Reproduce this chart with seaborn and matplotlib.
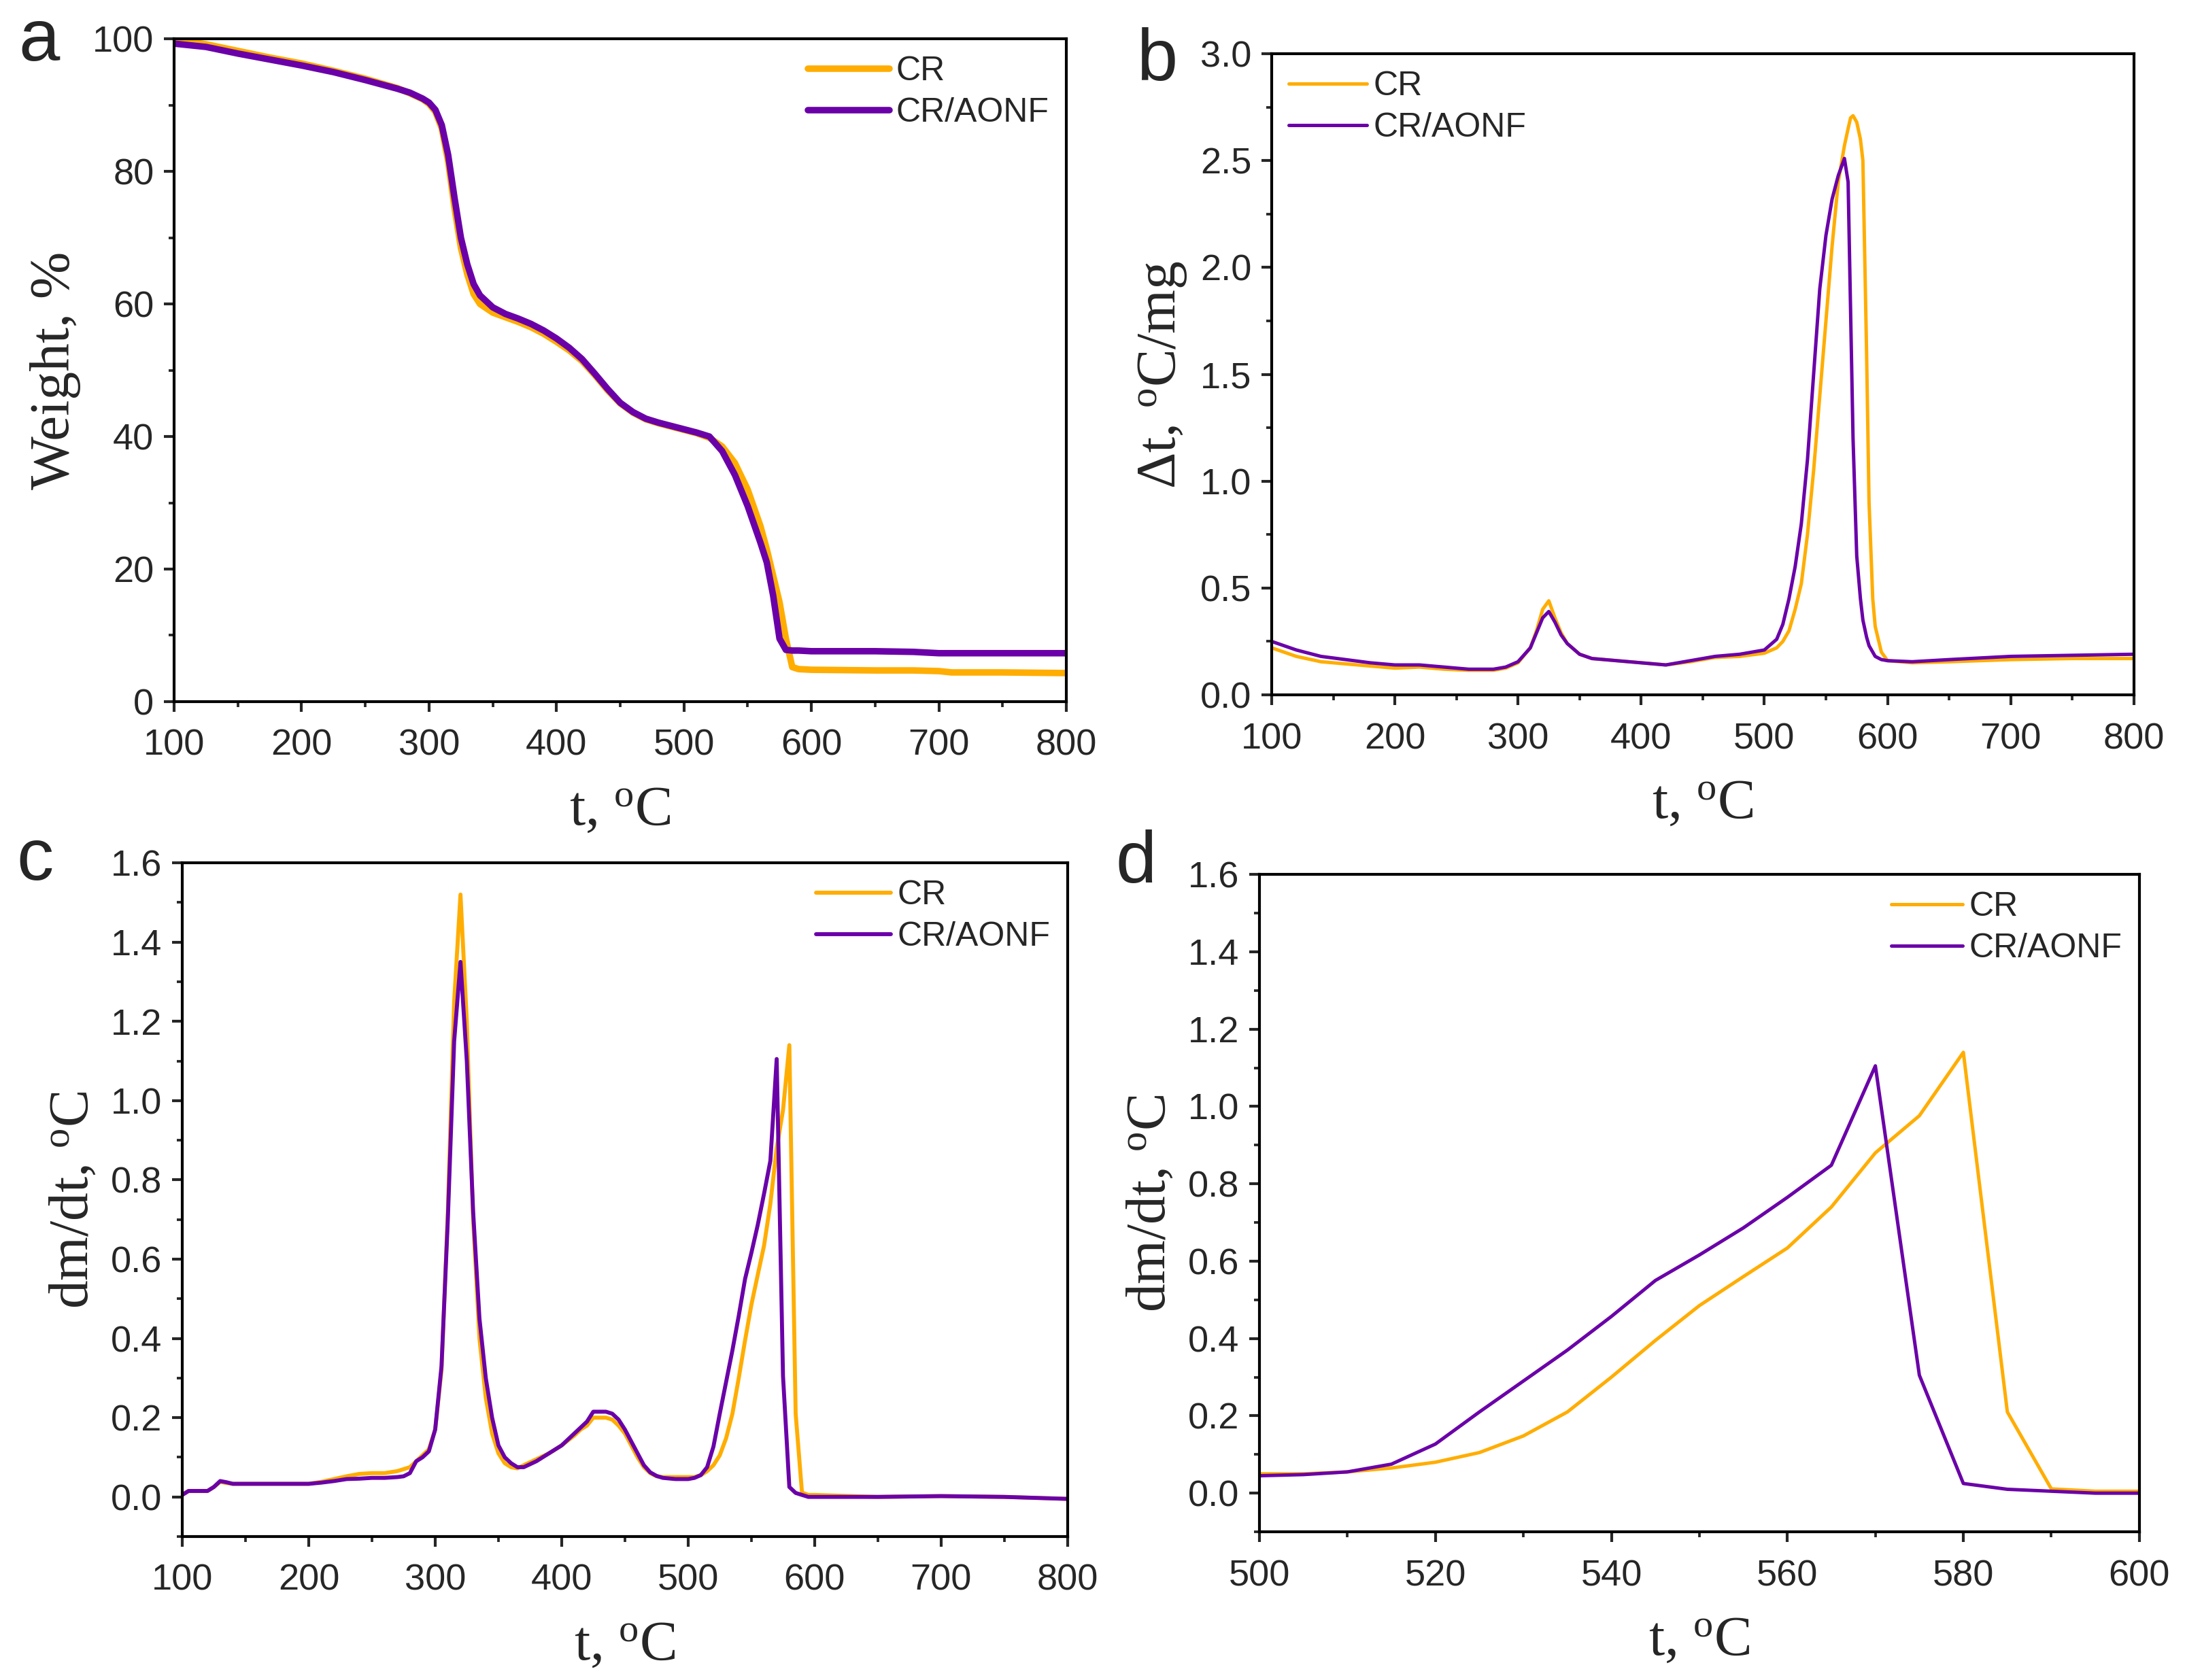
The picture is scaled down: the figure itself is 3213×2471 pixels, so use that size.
import numpy as np
import pandas as pd
import matplotlib
matplotlib.use("Agg")
import matplotlib.pyplot as plt
from matplotlib.ticker import MultipleLocator
import seaborn as sns

sns.set_style("ticks")
plt.rcParams['font.family'] = ['Liberation Sans', 'DejaVu Sans']
plt.rcParams['mathtext.fontset'] = 'custom'
plt.rcParams['mathtext.rm'] = 'Liberation Serif'
plt.rcParams['mathtext.it'] = 'Liberation Serif:italic'

ORANGE = '#FFAD00'
PURPLE = '#6A00A8'

# ---------------- data ----------------
# a: TGA
t_tga = [100, 125, 150, 175, 200, 225, 250, 275, 285, 295, 300, 305, 310, 315, 320, 325,
         330, 335, 340, 350, 360, 370, 380, 390, 400, 410, 420, 430, 440, 450, 460, 470,
         480, 490, 500, 510, 520, 530, 540, 550, 560, 565, 570, 575, 580, 585, 590, 600,
         650, 680, 700, 710, 750, 800]
w_cr = [100.0, 99.2, 98.2, 97.2, 96.3, 95.2, 94.0, 92.6, 91.8, 90.9, 90.2, 89.0, 86.5, 81.5,
        74.5, 68.5, 64.5, 61.5, 60.0, 58.7, 58.0, 57.3, 56.5, 55.5, 54.3, 53.0, 51.4, 49.3,
        47.0, 45.0, 43.6, 42.6, 42.0, 41.5, 41.0, 40.5, 39.8, 38.5, 36.0, 32.0, 26.5, 23.0,
        19.0, 15.0, 9.5, 5.2, 4.9, 4.8, 4.7, 4.7, 4.6, 4.4, 4.4, 4.3]
w_aonf = [99.3, 98.8, 97.8, 96.9, 96.0, 95.0, 93.8, 92.5, 91.9, 91.0, 90.4, 89.3, 87.0, 82.5,
          76.0, 70.0, 66.0, 63.0, 61.3, 59.5, 58.5, 57.8, 57.0, 56.0, 54.8, 53.4, 51.7, 49.5,
          47.2, 45.1, 43.7, 42.7, 42.1, 41.6, 41.1, 40.6, 40.0, 37.8, 34.2, 29.5, 24.0, 21.0,
          16.0, 9.5, 7.8, 7.7, 7.7, 7.6, 7.6, 7.5, 7.3, 7.3, 7.3, 7.3]

# b: DTA
t_dta = [100, 120, 140, 160, 180, 200, 220, 240, 260, 280, 290, 300, 310, 315, 320, 325, 330,
         335, 340, 350, 360, 380, 400, 420, 440, 460, 480, 500, 510, 515, 520, 525, 530, 535,
         540, 545, 550, 555, 560, 565, 568, 570, 572, 575, 578, 580, 583, 585, 588, 590, 595,
         600, 620, 650, 700, 750, 800]
dta_cr = [0.22, 0.18, 0.155, 0.145, 0.135, 0.125, 0.13, 0.12, 0.115, 0.115, 0.125, 0.15, 0.22,
          0.30, 0.40, 0.44, 0.36, 0.29, 0.24, 0.19, 0.17, 0.16, 0.15, 0.14, 0.155, 0.175, 0.18,
          0.195, 0.22, 0.25, 0.30, 0.40, 0.52, 0.75, 1.05, 1.40, 1.75, 2.10, 2.40, 2.57, 2.65,
          2.70, 2.71, 2.68, 2.60, 2.50, 1.60, 0.90, 0.45, 0.32, 0.20, 0.16, 0.15, 0.155, 0.165,
          0.17, 0.17]
dta_aonf = [0.25, 0.21, 0.18, 0.165, 0.15, 0.14, 0.14, 0.13, 0.12, 0.12, 0.13, 0.155, 0.22,
            0.29, 0.36, 0.39, 0.34, 0.28, 0.24, 0.19, 0.17, 0.16, 0.15, 0.14, 0.16, 0.18, 0.19,
            0.21, 0.26, 0.33, 0.45, 0.60, 0.80, 1.10, 1.50, 1.90, 2.15, 2.32, 2.43, 2.51, 2.40,
            1.80, 1.20, 0.65, 0.45, 0.35, 0.27, 0.23, 0.20, 0.18, 0.165, 0.16, 0.155, 0.165,
            0.18, 0.185, 0.19]

# d: DTG, 500-600 zoom
t_zoom = [500, 505, 510, 515, 520, 525, 530, 535, 540, 545, 550, 555, 560, 565, 570, 575,
          580, 585, 590, 595, 600]
dtg_cr_zoom = [0.05, 0.05, 0.055, 0.065, 0.08, 0.105, 0.148, 0.21, 0.30, 0.395, 0.485, 0.56,
               0.634, 0.74, 0.88, 0.976, 1.14, 0.21, 0.011, 0.005, 0.005]
dtg_aonf_zoom = [0.045, 0.048, 0.055, 0.075, 0.127, 0.21, 0.29, 0.37, 0.457, 0.55, 0.616,
                 0.686, 0.765, 0.848, 1.105, 0.305, 0.025, 0.01, 0.005, 0.0, 0.0]

# c: DTG, full range (low part + zoom part + tail)
t_dtg_low = [100, 105, 110, 120, 125, 130, 135, 140, 150, 175, 200, 210, 220, 230, 240, 250,
             260, 270, 275, 280, 285, 290, 295, 300, 305, 310, 315, 320, 325, 330, 335, 340,
             345, 350, 355, 360, 365, 370, 380, 390, 400, 410, 415, 420, 425, 430, 435, 440,
             445, 450, 455, 460, 465, 470, 475, 480, 490]
dtg_cr_low = [0.005, 0.015, 0.015, 0.015, 0.025, 0.038, 0.035, 0.033, 0.033, 0.033, 0.033,
              0.038, 0.045, 0.052, 0.058, 0.06, 0.06, 0.065, 0.07, 0.075, 0.09, 0.105, 0.12,
              0.17, 0.32, 0.72, 1.25, 1.52, 1.20, 0.70, 0.40, 0.25, 0.16, 0.11, 0.085, 0.075,
              0.072, 0.08, 0.095, 0.11, 0.13, 0.155, 0.17, 0.18, 0.20, 0.20, 0.20, 0.195, 0.18,
              0.16, 0.13, 0.10, 0.075, 0.06, 0.052, 0.05, 0.05]
dtg_aonf_low = [0.005, 0.015, 0.015, 0.015, 0.025, 0.04, 0.037, 0.033, 0.033, 0.033, 0.033,
                0.036, 0.04, 0.045, 0.046, 0.048, 0.048, 0.05, 0.052, 0.06, 0.09, 0.10, 0.115,
                0.17, 0.33, 0.70, 1.15, 1.35, 1.10, 0.72, 0.45, 0.30, 0.20, 0.13, 0.10, 0.085,
                0.075, 0.075, 0.09, 0.11, 0.13, 0.16, 0.175, 0.19, 0.215, 0.215, 0.215, 0.21,
                0.195, 0.17, 0.14, 0.11, 0.08, 0.062, 0.053, 0.048, 0.045]
t_dtg_tail = [650, 700, 750, 800]
dtg_cr_tail = [0.0, 0.002, 0.0, -0.005]
dtg_aonf_tail = [0.0, 0.002, 0.0, -0.005]

t_dtg = t_dtg_low + t_zoom + t_dtg_tail
dtg_cr = dtg_cr_low + dtg_cr_zoom + dtg_cr_tail
dtg_aonf = dtg_aonf_low + dtg_aonf_zoom + dtg_aonf_tail

# ---------------- figure ----------------
fig = plt.figure(figsize=(3213 / 300, 2471 / 300), dpi=300)
ax_a = fig.add_axes([0.0797, 0.5824, 0.4083, 0.3944])
ax_b = fig.add_axes([0.5820, 0.5864, 0.3946, 0.3816])
ax_c = fig.add_axes([0.0834, 0.0854, 0.4052, 0.4010])
ax_d = fig.add_axes([0.5764, 0.0882, 0.4027, 0.3913])

serif = dict(family=['Liberation Serif', 'DejaVu Serif'], fontsize=20)
deg = r'$^{\mathrm{o}}$'


def draw(ax, x, y1, y2, lw):
    df = pd.DataFrame({'t': x, 'CR': y1, 'CR/AONF': y2})
    sns.lineplot(data=df, x='t', y='CR', ax=ax, color=ORANGE, lw=lw, label='CR',
                 estimator=None, sort=False)
    sns.lineplot(data=df, x='t', y='CR/AONF', ax=ax, color=PURPLE, lw=lw, label='CR/AONF',
                 estimator=None, sort=False)


def style(ax, xlim, ylim, xmaj, xmin, ymaj, ymin, xlabel, ylabel, yfmt):
    ax.set_xlim(*xlim)
    ax.set_ylim(*ylim)
    ax.xaxis.set_major_locator(MultipleLocator(xmaj))
    ax.xaxis.set_minor_locator(MultipleLocator(xmin))
    ax.yaxis.set_major_locator(MultipleLocator(ymaj))
    ax.yaxis.set_minor_locator(MultipleLocator(ymin))
    ax.yaxis.set_major_formatter(yfmt)
    ax.tick_params(which='major', direction='out', length=3.6, width=1.0, labelsize=13)
    ax.tick_params(axis='x', which='major', pad=6)
    ax.tick_params(axis='y', which='major', pad=3.5)
    ax.tick_params(which='minor', direction='out', length=2, width=0.9)
    for s in ax.spines.values():
        s.set_visible(True)
        s.set_linewidth(1.0)
        s.set_color('black')
    ax.set_xlabel(xlabel, labelpad=8, **serif)
    ax.set_ylabel(ylabel, labelpad=4, **serif)


draw(ax_a, t_tga, w_cr, w_aonf, 2.3)
style(ax_a, (100, 800), (0, 100), 100, 50, 20, 10, 't, ' + deg + 'C', 'Weight, %', '{x:.0f}')
ax_a.legend(loc='upper right', frameon=False, fontsize=12, handlelength=2.4,
            handletextpad=0.2, labelspacing=0.3, borderaxespad=0.2, borderpad=0.3)

draw(ax_b, t_dta, dta_cr, dta_aonf, 1.2)
style(ax_b, (100, 800), (0, 3.0), 100, 50, 0.5, 0.25, 't, ' + deg + 'C',
      r'$\Delta$t, ' + deg + 'C/mg', '{x:.1f}')
ax_b.legend(loc='upper left', frameon=False, fontsize=12, handlelength=2.3,
            handletextpad=0.2, labelspacing=0.3, borderaxespad=0.2, borderpad=0.3)

draw(ax_c, t_dtg, dtg_cr, dtg_aonf, 1.4)
style(ax_c, (100, 800), (-0.1, 1.6), 100, 50, 0.2, 0.1, 't, ' + deg + 'C',
      'dm/dt, ' + deg + 'C', '{x:.1f}')
ax_c.legend(loc='upper right', frameon=False, fontsize=12, handlelength=2.2,
            handletextpad=0.2, labelspacing=0.3, borderaxespad=0.2, borderpad=0.3)

draw(ax_d, t_zoom, dtg_cr_zoom, dtg_aonf_zoom, 1.2)
style(ax_d, (500, 600), (-0.1, 1.6), 20, 10, 0.2, 0.1, 't, ' + deg + 'C',
      'dm/dt, ' + deg + 'C', '{x:.1f}')
ax_d.legend(loc='upper right', frameon=False, fontsize=12, handlelength=2.1,
            handletextpad=0.2, labelspacing=0.3, borderaxespad=0.2, borderpad=0.3)

# panel letters
for lab, x, y in [('a', 0.0085, 0.9640), ('b', 0.5200, 0.9522),
                  ('c', 0.0075, 0.4763), ('d', 0.5105, 0.4747)]:
    fig.text(x, y, lab, fontsize=26, va='baseline', ha='left')

fig.savefig('out.png', dpi=300)
